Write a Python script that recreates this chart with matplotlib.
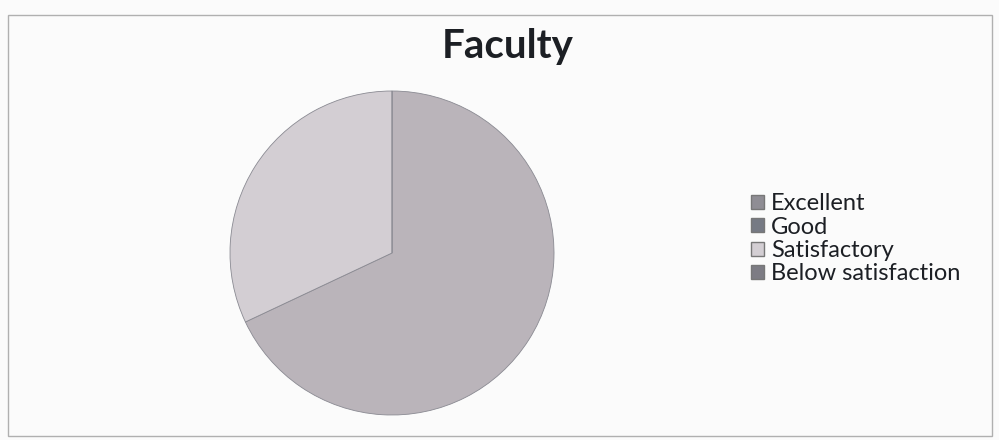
import matplotlib
matplotlib.use("Agg")
import matplotlib.pyplot as plt
from matplotlib.patches import Rectangle

title = "Faculty"
categories = ["Excellent", "Good", "Satisfactory", "Below satisfaction"]
values = [0, 68, 32, 0]
colors = ["#8f8d94", "#767a84", "#d3ced3", "#7d7c84"]
slice_colors = ["#8f8d94", "#bab4ba", "#d3ced3", "#7d7c84"]

plt.rcParams['font.family'] = ['Lato', 'DejaVu Sans']

fig = plt.figure(figsize=(9.99, 4.4), dpi=100)
fig.patch.set_facecolor("#fbfbfb")
fig.add_artist(Rectangle((0.008, 0.01), 0.985, 0.955, transform=fig.transFigure,
                         fill=False, edgecolor="#b0b0b0", linewidth=1.0))

cx, cy, r = 392, 253, 162
ax = fig.add_axes([(cx - r) / 999, (440 - cy - r) / 440, 2 * r / 999, 2 * r / 440])
wedges, _ = ax.pie(values, colors=slice_colors, startangle=90, counterclock=False,
                   wedgeprops=dict(edgecolor="#8a8a92", linewidth=0.6))
ax.set_xlim(-1.0, 1.0)
ax.set_ylim(-1.0, 1.0)
ax.set_aspect('equal')

fig.text(0.508, 0.895, title, ha="center", va="center", fontsize=29, fontweight="bold",
         color="#1c1f24")

handles = [Rectangle((0, 0), 1, 1, facecolor=c, edgecolor="#777") for c in colors]
leg = fig.legend(handles, categories, loc="center left", bbox_to_anchor=(0.752, 0.457),
                 frameon=False, fontsize=17, handlelength=0.55, handleheight=0.55,
                 handletextpad=0.3, labelspacing=0.1, borderpad=0, borderaxespad=0)
for t in leg.get_texts():
    t.set_color("#1c1f24")

fig.savefig("out.png", dpi=100, facecolor=fig.get_facecolor())
